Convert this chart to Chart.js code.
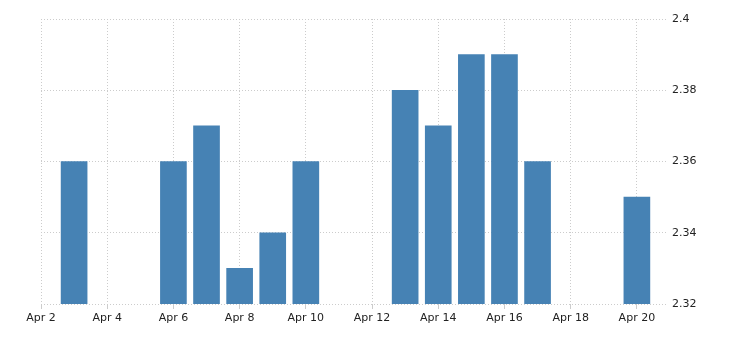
<!DOCTYPE html>
<html>
<head>
<meta charset="utf-8">
<script src="https://cdn.jsdelivr.net/npm/chart.js@4/dist/chart.umd.min.js"></script>
<style>
  html, body { margin: 0; padding: 0; background: #fff; }
  #wrap { width: 730px; height: 340px; }
</style>
</head>
<body>
<div id="wrap"><canvas id="c" width="730" height="340"></canvas></div>
<script>
const month = 'Apr';
const days = [3, 6, 7, 8, 9, 10, 13, 14, 15, 16, 17, 20];
const values = [2.36, 2.36, 2.37, 2.33, 2.34, 2.36, 2.38, 2.37, 2.39, 2.39, 2.36, 2.35];
const xTickDays = [2, 4, 6, 8, 10, 12, 14, 16, 18, 20];
const yTicks = [2.32, 2.34, 2.36, 2.38, 2.4];

const points = days.map((d, i) => ({ x: d, y: values[i] }));
const gridColor = '#cccccc';
const font = { family: 'DejaVu Sans', size: 11 };

new Chart(document.getElementById('c'), {
  type: 'bar',
  data: {
    datasets: [{
      data: points,
      backgroundColor: '#4682b4',
      borderWidth: 0,
      barThickness: 26
    }]
  },
  options: {
    responsive: false,
    animation: false,
    events: [],
    layout: { padding: { left: 41, top: 19, right: 0, bottom: 0 } },
    plugins: { legend: { display: false }, tooltip: { enabled: false } },
    scales: {
      x: {
        type: 'linear',
        min: 2,
        max: 20.94,
        offset: false,
        afterBuildTicks: s => { s.ticks = xTickDays.map(v => ({ value: v })); },
        afterFit: s => { s.height = 36; },
        border: { display: false, dash: [1, 2] },
        grid: {
          offset: false,
          color: gridColor,
          tickBorderDash: [],
          tickColor: gridColor,
          tickLength: 5,
          lineWidth: 1
        },
        ticks: {
          autoSkip: false,
          maxRotation: 0,
          padding: 3,
          color: '#222',
          font: font,
          callback: v => month + ' ' + v
        }
      },
      y: {
        position: 'right',
        min: 2.32,
        max: 2.4,
        afterBuildTicks: s => { s.ticks = yTicks.map(v => ({ value: v })); },
        afterFit: s => { s.width = 62; },
        border: { display: false, dash: [1, 2] },
        grid: {
          color: gridColor,
          drawTicks: false,
          lineWidth: 1
        },
        ticks: {
          padding: 4,
          color: '#222',
          font: font,
          callback: v => String(Math.round(v * 100) / 100)
        }
      }
    }
  }
});
</script>
</body>
</html>
